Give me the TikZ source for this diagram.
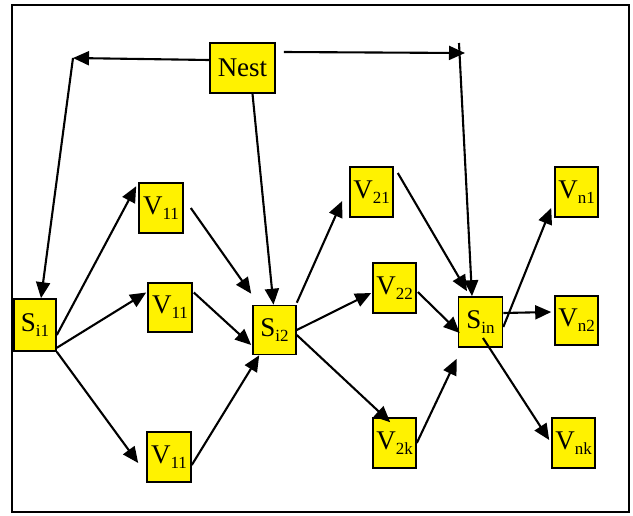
\documentclass[tikz,border=0pt]{standalone}
\usepackage{fontspec}
\setmainfont{Liberation Serif}
\usetikzlibrary{arrows.meta}
\newcommand\lbl[2]{#1\raisebox{-5pt}{\fontsize{17}{17}\selectfont #2}}
\tikzset{
  box/.style={draw=black, line width=1.6pt, fill=yellow, inner sep=0pt, font=\fontsize{27}{27}\selectfont},
  arr/.style={line width=2.1pt, -{Triangle[length=16pt,width=14pt]}},
}
\begin{document}
\begin{tikzpicture}[x=1pt,y=-1pt]
\useasboundingbox (0,0) rectangle (633,515);
\draw[line width=1.8pt] (12,5) rectangle (629,512);
% nodes
\node[box, minimum width=65pt, minimum height=50pt] (Nest) at (242.5,68) {Nest};
\node[box, minimum width=42pt, minimum height=52pt] (Si1) at (35,325) {\lbl{S}{i1}};
\node[box, minimum width=44pt, minimum height=50pt] (V11a) at (161,208) {\lbl{V}{11}};
\node[box, minimum width=44pt, minimum height=49pt] (V11b) at (170,307.5) {\lbl{V}{11}};
\node[box, minimum width=44pt, minimum height=50pt] (V11c) at (169,457) {\lbl{V}{11}};
\node[box, minimum width=43pt, minimum height=49pt] (Si2) at (274.5,330) {\lbl{S}{i2}};
\node[box, minimum width=43pt, minimum height=50pt] (V21) at (371.5,192) {\lbl{V}{21}};
\node[box, minimum width=43pt, minimum height=50pt] (V22) at (394.5,288) {\lbl{V}{22}};
\node[box, minimum width=43pt, minimum height=50pt] (V2k) at (394.5,443) {\lbl{V}{2k}};
\node[box, minimum width=44pt, minimum height=50pt] (Sin) at (480.5,322) {\lbl{S}{in}};
\node[box, minimum width=43pt, minimum height=50pt] (Vn1) at (576.5,192) {\lbl{V}{n1}};
\node[box, minimum width=43pt, minimum height=49pt] (Vn2) at (576.5,320.5) {\lbl{V}{n2}};
\node[box, minimum width=43pt, minimum height=50pt] (Vnk) at (573.5,443) {\lbl{V}{nk}};
% free corner points
\coordinate (L) at (73,58);
\coordinate (R) at (465,53);
\coordinate (R2) at (459,43);
% connectors from Nest
\draw[arr] ([yshift=8pt]Nest.west) -- (L);
\draw[arr] (L) -- ([xshift=6pt]Si1.north);
\draw[arr] ([xshift=8pt,yshift=16pt]Nest.east) -- (R);
\draw[arr] (R2) -- ([xshift=-8.5pt]Sin.north);
\draw[arr] ([xshift=10pt]Nest.south) -- ([xshift=-1pt]Si2.north);
% from Si1
\draw[arr] ([yshift=-10pt]Si1.east) -- ([xshift=-2pt,yshift=-4pt]V11a.north west);
\draw[arr] ([yshift=4pt]Si1.south east) -- ([xshift=-1pt,yshift=15pt]V11b.west);
\draw[arr] (Si1.south east) -- ([xshift=-8pt,yshift=-6pt]V11c.west);
% to Si2
\draw[arr] ([xshift=7pt]V11a.east) -- ([xshift=-1pt,yshift=11pt]Si2.north west);
\draw[arr] ([xshift=1pt,yshift=15pt]V11b.east) -- ([xshift=-1pt,yshift=-15pt]Si2.west);
\draw[arr] ([yshift=-8pt]V11c.east) -- ([xshift=7pt]Si2.south west);
% from Si2
\draw[arr] ([yshift=2pt]Si2.north east) -- ([xshift=-7pt,yshift=-9pt]V21.west);
\draw[arr] (Si2.east) -- ([xshift=-1pt,yshift=-5pt]V22.west);
\draw[arr] ([yshift=-5pt]Si2.east) -- ([xshift=18pt,yshift=-5pt]V2k.north west);
% to Sin
\draw[arr] ([xshift=4pt,yshift=19pt]V21.east) -- ([xshift=-13.5pt,yshift=5pt]Sin.north);
\draw[arr] ([xshift=1pt,yshift=-4pt]V22.east) -- ([xshift=2pt,yshift=-11pt]Sin.west);
\draw[arr] (V2k.east) -- ([xshift=-1pt,yshift=-11pt]Sin.south west);
% from Sin
\draw[arr] ([yshift=-5pt]Sin.east) -- ([xshift=-3pt,yshift=-16pt]Vn1.west);
\draw[arr] ([yshift=9pt]Sin.east) -- ([xshift=-3pt,yshift=8.5pt]Vn2.west);
\draw[arr] ([xshift=2.5pt,yshift=-16pt]Sin.center) -- ([xshift=-2pt,yshift=3pt]Vnk.west);
\end{tikzpicture}
\end{document}
